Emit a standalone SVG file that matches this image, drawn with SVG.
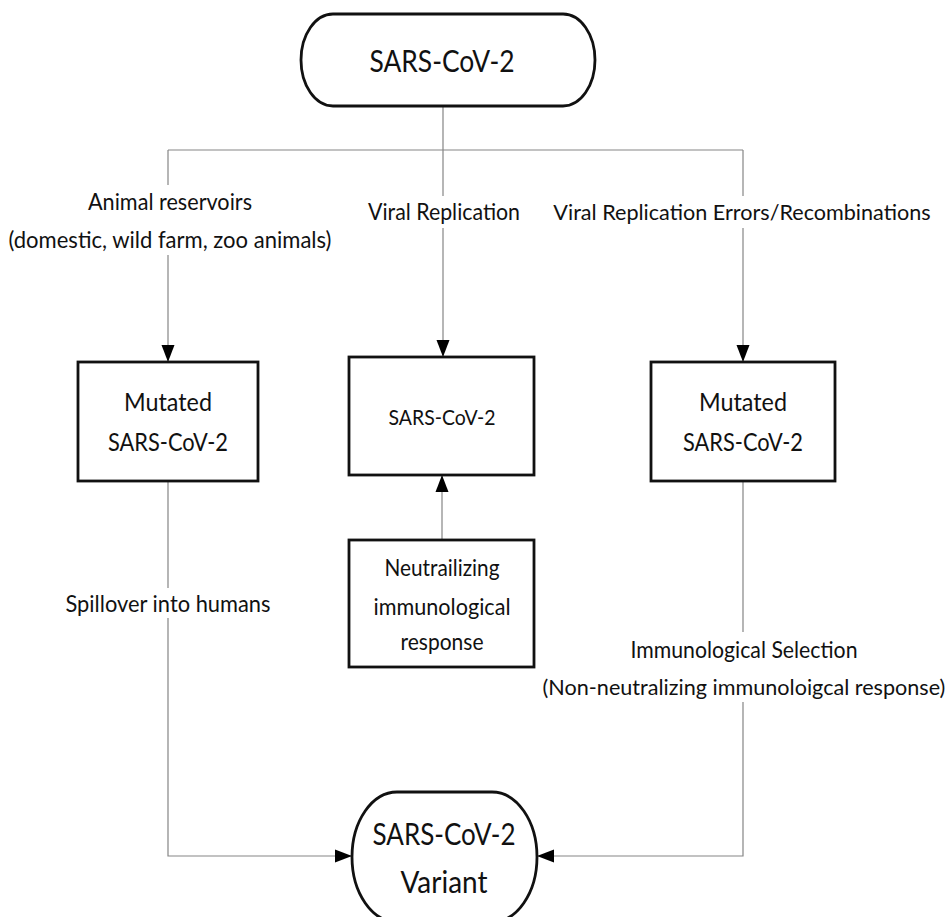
<svg xmlns="http://www.w3.org/2000/svg" width="950" height="917" viewBox="0 0 950 917">
<style>
text{font-family:Lato,"Liberation Sans",sans-serif;fill:#111;text-anchor:middle}
.node{fill:#fff;stroke:#111;stroke-width:2.8}
.conn{fill:none;stroke:#858585;stroke-width:1.2}
.bg{fill:#fff;stroke:none}
.lbl{font-size:23.5px}
.lbw{font-size:21.6px}
.big{font-size:30px}
.mid{font-size:25px}
.sm{font-size:22px}
.nt{font-size:24px}
</style>
<defs>
<marker id="ah" viewBox="0 0 17 14" refX="17" refY="7" markerWidth="17" markerHeight="14" markerUnits="userSpaceOnUse" orient="auto">
<path d="M0,0.5 L17,7 L0,13.5 Z" fill="#000"/>
</marker>
</defs>
<g id="connectors">
<path class="conn" d="M443,106 V150 M168,150 H743"/>
<path class="conn" d="M168,150 V362" marker-end="url(#ah)"/>
<path class="conn" d="M443,150 V357" marker-end="url(#ah)"/>
<path class="conn" d="M743,150 V362" marker-end="url(#ah)"/>
<path class="conn" d="M442,540 V475" marker-end="url(#ah)"/>
<path class="conn" d="M168,481 V856 H352" marker-end="url(#ah)"/>
<path class="conn" d="M743,481 V856 H537" marker-end="url(#ah)"/>
<rect class="bg" x="6" y="185" width="330" height="70"/>
<text class="lbl" x="170" y="210" textLength="164" lengthAdjust="spacingAndGlyphs">Animal reservoirs</text>
<text class="lbl" x="170" y="248" textLength="323" lengthAdjust="spacingAndGlyphs">(domestic, wild farm, zoo animals)</text>
<rect class="bg" x="364" y="196" width="160" height="32"/>
<text class="lbl" x="444" y="220" textLength="152" lengthAdjust="spacingAndGlyphs">Viral Replication</text>
<rect class="bg" x="548" y="196" width="390" height="32"/>
<text class="lbw" x="742" y="220">Viral Replication Errors/Recombinations</text>
<rect class="bg" x="60" y="588" width="216" height="30"/>
<text class="lbl" x="168" y="612" textLength="205" lengthAdjust="spacingAndGlyphs">Spillover into humans</text>
<rect class="bg" x="540" y="632" width="410" height="70"/>
<text class="lbl" x="744" y="658" textLength="227" lengthAdjust="spacingAndGlyphs">Immunological Selection</text>
<text class="lbw" x="744" y="695">(Non-neutralizing immunoloigcal response)</text>
</g>
<g id="start">
<rect class="node" x="301" y="14" width="294" height="92" rx="32" ry="46"/>
<text class="big" x="442" y="72" textLength="145" lengthAdjust="spacingAndGlyphs">SARS-CoV-2</text>
</g>
<g id="mutated-left">
<rect class="node" x="78" y="362" width="180" height="119"/>
<text class="mid" x="168" y="411" textLength="88" lengthAdjust="spacingAndGlyphs">Mutated</text>
<text class="mid" x="168" y="451" textLength="120" lengthAdjust="spacingAndGlyphs">SARS-CoV-2</text>
</g>
<g id="sars-center">
<rect class="node" x="349" y="357" width="185" height="118"/>
<text class="sm" x="442" y="425" textLength="107" lengthAdjust="spacingAndGlyphs">SARS-CoV-2</text>
</g>
<g id="mutated-right">
<rect class="node" x="651" y="362" width="184" height="119"/>
<text class="mid" x="743" y="411" textLength="88" lengthAdjust="spacingAndGlyphs">Mutated</text>
<text class="mid" x="743" y="451" textLength="120" lengthAdjust="spacingAndGlyphs">SARS-CoV-2</text>
</g>
<g id="neutralizing">
<rect class="node" x="349" y="540" width="185" height="127"/>
<text class="nt" x="442" y="576" textLength="115" lengthAdjust="spacingAndGlyphs">Neutrailizing</text>
<text class="nt" x="442" y="615" textLength="137" lengthAdjust="spacingAndGlyphs">immunological</text>
<text class="nt" x="442" y="650" textLength="83" lengthAdjust="spacingAndGlyphs">response</text>
</g>
<g id="variant">
<rect class="node" x="352" y="792" width="185" height="130" rx="45" ry="65"/>
<text class="big" x="444" y="845" textLength="143" lengthAdjust="spacingAndGlyphs">SARS-CoV-2</text>
<text class="big" x="444" y="893" textLength="87" lengthAdjust="spacingAndGlyphs">Variant</text>
</g>
</svg>
